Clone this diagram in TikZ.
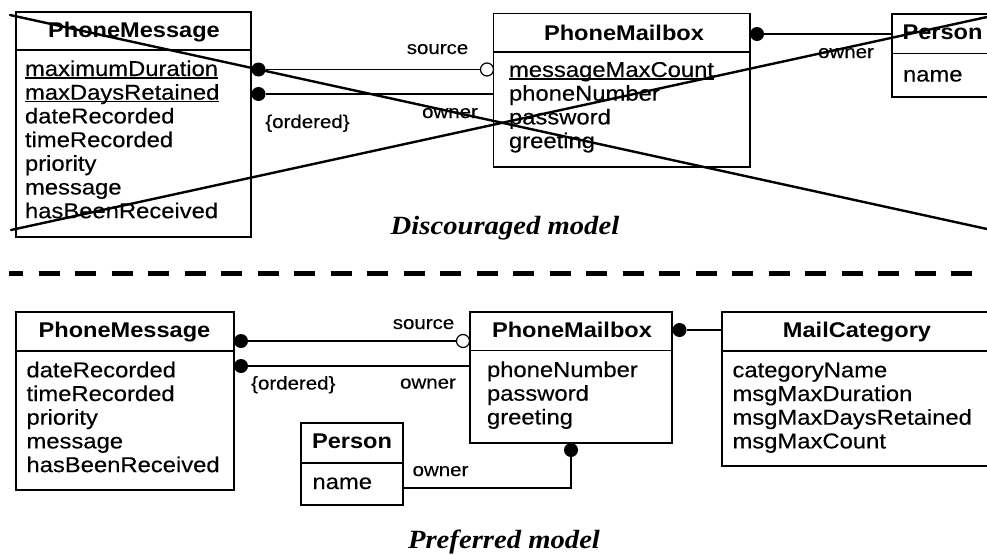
\documentclass[tikz,border=0pt]{standalone}
\usepackage{fontspec}
\setmainfont{Liberation Sans}[FakeStretch=1.107, UprightFeatures={FakeBold=0.3}]
\newfontfamily\capfont{Liberation Serif}[FakeStretch=1.09]
\usetikzlibrary{fit}

% underlined (class-scope) attribute: rule at a fixed depth under the baseline
\newcommand\ulattr[1]{\setbox0=\hbox{#1}\rlap{\rule[-2.6pt]{\wd0}{1.3pt}}\box0}

\tikzset{
  classbox/.style={draw, rectangle, line width=1.3pt, inner sep=0pt, outer sep=0pt},
  divider/.style={line width=1.3pt},
  attr/.style={inner sep=0pt, outer sep=0pt, anchor=base west, font=\fontsize{21.5}{24}\selectfont},
  ctitle/.style={inner sep=0pt, outer sep=0pt, anchor=base, font=\fontsize{21.3}{24}\selectfont\bfseries},
  role/.style={inner sep=0pt, outer sep=0pt, anchor=base, font=\fontsize{18.5}{20}\selectfont},
  caption/.style={inner sep=0pt, outer sep=0pt, anchor=base, font={\capfont\fontsize{26.3}{30}\selectfont\bfseries\itshape}},
  dot/.style={circle, fill=black, inner sep=0pt, outer sep=0pt, minimum size=14pt},
  hollow/.style={circle, draw, fill=white, line width=1.2pt, inner sep=0pt, outer sep=0pt, minimum size=13pt},
  conn/.style={line width=1.3pt},
  strike/.style={line width=2.4pt, line cap=round},
  sepline/.style={line width=4.5pt, dash pattern=on 21pt off 15.5pt, dash phase=7pt}
}

\begin{document}
\begin{tikzpicture}[x=1pt, y=-1pt]
\useasboundingbox (0,0) rectangle (987,554);
\fill[white] (0,0) rectangle (987,554);
\clip (0,0) rectangle (987,554);

% ================= discouraged model =================
% PhoneMessage
\node[classbox, fit={(16,12) (251,237)}] (pmA) {};
\draw[divider] (pmA.west |- 0,50) -- (pmA.east |- 0,50);
\node[ctitle] (pmAt) at (134,37) {PhoneMessage};
\node[attr] (pmA1) at (25,76)    {\ulattr{maximumDuration}};
\node[attr] (pmA2) at (25,99.7)  {\ulattr{maxDaysRetained}};
\node[attr] (pmA3) at (25,123.4) {dateRecorded};
\node[attr] (pmA4) at (25,147.1) {timeRecorded};
\node[attr] (pmA5) at (25,170.8) {priority};
\node[attr] (pmA6) at (25,194.5) {message};
\node[attr] (pmA7) at (25,218.2) {hasBeenReceived};

% PhoneMailbox
\node[classbox, fit={(493.5,13.5) (750,167)}] (mbA) {};
\draw[divider] (mbA.west |- 0,52) -- (mbA.east |- 0,52);
\node[ctitle] (mbAt) at (624,40) {PhoneMailbox};
\node[attr] (mbA1) at (509,77)    {\ulattr{messageMaxCount}};
\node[attr] (mbA2) at (509,100.7) {phoneNumber};
\node[attr] (mbA3) at (509,124.4) {password};
\node[attr] (mbA4) at (509,148.1) {greeting};

% Person
\node[classbox, fit={(892,14) (994,97)}] (psA) {};
\draw[divider] (psA.west |- 0,53.5) -- (psA.east |- 0,53.5);
\node[ctitle] (psAt) at (942.5,39.5) {Person};
\node[attr] (psA1) at (903,81.5) {name};

% associations
\node[dot] (dA1) at (258.5,69.5) {};
\node[hollow] (oA1) at (487,69.5) {};
\draw[conn] (dA1) -- (oA1);
\node[dot] (dA2) at (258.5,94) {};
\draw[conn] (dA2) -- (dA2 -| mbA.west);
\node[dot] (dA3) at (757,34) {};
\draw[conn] (dA3) -- (dA3 -| psA.west);

\node[role] (rA1) at (437.5,54)  {source};
\node[role] (rA2) at (307.5,128) {\{ordered\}};
\node[role] (rA3) at (450,118)   {owner};
\node[role] (rA4) at (846,58)    {owner};

% crossing-out strokes
\coordinate (xa1) at (10,15);
\coordinate (xa2) at (987,229);
\coordinate (xb1) at (11,230);
\coordinate (xb2) at (987,17);
\draw[strike] (xa1) -- (xa2);
\draw[strike] (xb1) -- (xb2);

\node[caption] (capA) at (505,234) {Discouraged model};

% separator
\coordinate (sepL) at (9,273.5);
\coordinate (sepR) at (975,273.5);
\draw[sepline] (sepL) -- (sepR);

% ================= preferred model =================
% PhoneMessage
\node[classbox, fit={(16,312) (234,490)}] (pmB) {};
\draw[divider] (pmB.west |- 0,351) -- (pmB.east |- 0,351);
\node[ctitle] (pmBt) at (124.5,337) {PhoneMessage};
\node[attr] (pmB1) at (26.5,377.3) {dateRecorded};
\node[attr] (pmB2) at (26.5,401)   {timeRecorded};
\node[attr] (pmB3) at (26.5,424.7) {priority};
\node[attr] (pmB4) at (26.5,448.4) {message};
\node[attr] (pmB5) at (26.5,472.1) {hasBeenReceived};

% PhoneMailbox
\node[classbox, fit={(470,312) (672,443)}] (mbB) {};
\draw[divider] (mbB.west |- 0,350.5) -- (mbB.east |- 0,350.5);
\node[ctitle] (mbBt) at (572,337) {PhoneMailbox};
\node[attr] (mbB1) at (487,377)   {phoneNumber};
\node[attr] (mbB2) at (487,400.7) {password};
\node[attr] (mbB3) at (487,424.4) {greeting};

% MailCategory
\node[classbox, fit={(722,312) (992,466)}] (mcB) {};
\draw[divider] (mcB.west |- 0,351) -- (mcB.east |- 0,351);
\node[ctitle] (mcBt) at (857,337) {MailCategory};
\node[attr] (mcB1) at (732.5,377.3) {categoryName};
\node[attr] (mcB2) at (732.5,401)   {msgMaxDuration};
\node[attr] (mcB3) at (732.5,424.7) {msgMaxDaysRetained};
\node[attr] (mcB4) at (732.5,448.4) {msgMaxCount};

% Person
\node[classbox, fit={(301,423) (403,505)}] (psB) {};
\draw[divider] (psB.west |- 0,463) -- (psB.east |- 0,463);
\node[ctitle] (psBt) at (352,448) {Person};
\node[attr] (psB1) at (312.5,489) {name};

% associations
\node[dot] (dB1) at (241,341) {};
\node[hollow] (oB1) at (463,341) {};
\draw[conn] (dB1) -- (oB1);
\node[dot] (dB2) at (241,366) {};
\draw[conn] (dB2) -- (dB2 -| mbB.west);
\node[dot] (dB3) at (679.5,330) {};
\draw[conn] (dB3) -- (dB3 -| mcB.west);
\node[dot] (dB4) at (571,450) {};
\coordinate (bendB) at (571,488);
\draw[conn] (dB4) -- (bendB) -- (bendB -| psB.east);

\node[role] (rB1) at (423.5,329) {source};
\node[role] (rB2) at (293.3,389.5) {\{ordered\}};
\node[role] (rB3) at (428,388.5) {owner};
\node[role] (rB4) at (440.5,476) {owner};

\node[caption] (capB) at (504,548.5) {Preferred model};
\end{tikzpicture}
\end{document}
